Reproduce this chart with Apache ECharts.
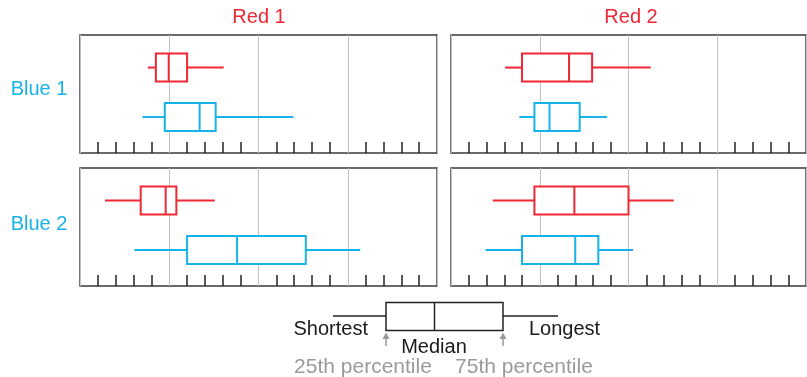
<!DOCTYPE html>
<html>
<head>
<meta charset="utf-8">
<script src="https://cdn.jsdelivr.net/npm/echarts@6/dist/echarts.min.js"></script>
<style>html,body{margin:0;padding:0;background:#fff}#c{width:807px;height:377px}</style>
</head>
<body>
<div id="c"></div>
<script>
// Column / row labels
const colLabels = ['Red 1', 'Red 2'];
const rowLabels = ['Blue 1', 'Blue 2'];
// Box values: [shortest, 25th, median, 75th, longest]
const redBlue1Red1  = [3.8, 4.25, 4.97, 6.0, 8.05];
const blueBlue1Red1 = [3.5, 4.75, 6.7, 7.6, 11.95];
const redBlue1Red2  = [3.05, 4.0, 6.65, 7.95, 11.25];
const blueBlue1Red2 = [3.85, 4.7, 5.55, 7.25, 8.8];
const redBlue2Red1  = [1.4, 3.4, 4.8, 5.4, 7.55];
const blueBlue2Red1 = [3.05, 6.0, 8.8, 12.65, 15.7];
const redBlue2Red2  = [2.35, 4.7, 6.95, 10.0, 12.55];
const blueBlue2Red2 = [1.95, 4.0, 7.0, 8.3, 10.25];
// Legend texts
const legendTexts = ['Shortest', 'Median', 'Longest', '25th percentile', '75th percentile'];

const RED = '#ee2834', BLUE = '#18b2ea';
const FONT = 'Liberation Sans, Arial, Helvetica, sans-serif';
const panels = [
  {left: 80, top: 35, width: 357, red: redBlue1Red1, blue: blueBlue1Red1},
  {left: 451, top: 35, width: 355, red: redBlue1Red2, blue: blueBlue1Red2},
  {left: 80, top: 168, width: 357, red: redBlue2Red1, blue: blueBlue2Red1},
  {left: 451, top: 168, width: 355, red: redBlue2Red2, blue: blueBlue2Red2}
];

function renderBox(params, api) {
  const y = api.value(0);
  const lo = api.coord([api.value(1), y]);
  const q1 = api.coord([api.value(2), y]);
  const md = api.coord([api.value(3), y]);
  const q3 = api.coord([api.value(4), y]);
  const hi = api.coord([api.value(5), y]);
  const h = 14;
  const color = api.value(6) === 0 ? RED : BLUE;
  const st = {stroke: color, lineWidth: 2, fill: null};
  return {type: 'group', children: [
    {type: 'line', shape: {x1: lo[0], y1: lo[1], x2: q1[0], y2: q1[1]}, style: st},
    {type: 'line', shape: {x1: q3[0], y1: q3[1], x2: hi[0], y2: hi[1]}, style: st},
    {type: 'rect', shape: {x: q1[0], y: q1[1] - h, width: q3[0] - q1[0], height: 2 * h}, style: {stroke: color, lineWidth: 2, fill: '#fff'}},
    {type: 'line', shape: {x1: md[0], y1: md[1] - h, x2: md[0], y2: md[1] + h}, style: st}
  ]};
}

const grid = [], xAxis = [], yAxis = [], series = [];
panels.forEach((p, i) => {
  grid.push({left: p.left, top: p.top, width: p.width, height: 118, show: true, borderColor: '#3a3a3a', borderWidth: 1.4, backgroundColor: 'transparent'});
  xAxis.push({type: 'value', gridIndex: i, min: 0, max: 20, interval: 5,
    axisLine: {show: false}, axisLabel: {show: false},
    axisTick: {show: false, inside: true},
    minorTick: {show: true, splitNumber: 5, length: 11, lineStyle: {color: '#222', width: 1.5}},
    splitLine: {show: true, lineStyle: {color: '#c2c2c2', width: 1}}});
  yAxis.push({type: 'value', gridIndex: i, min: 0.27, max: 2.66, show: false, splitLine: {show: false}});
  series.push({type: 'custom', xAxisIndex: i, yAxisIndex: i, renderItem: renderBox,
    encode: {x: [1, 2, 3, 4, 5], y: 0},
    data: [[2].concat(p.red, [0]), [1].concat(p.blue, [1])], silent: true, z: 5});
});

const txt = (x, y, t, opt) => ({type: 'text', x, y, style: Object.assign({text: t, font: '20px ' + FONT, fill: '#1a1a1a', textAlign: 'center', textVerticalAlign: 'middle'}, opt || {})});
const ln = (x1, y1, x2, y2, c) => ({type: 'line', shape: {x1, y1, x2, y2}, style: {stroke: c || '#222', lineWidth: 1.5}});
const arrow = (x) => ({type: 'group', children: [
  ln(x, 346, x, 336, '#999'),
  {type: 'polygon', shape: {points: [[x - 3.5, 339], [x, 332.5], [x + 3.5, 339]]}, style: {fill: '#999'}}
]});

const graphic = [
  txt(259, 17, colLabels[0], {fill: RED}),
  txt(631, 17, colLabels[1], {fill: RED}),
  txt(39, 89, rowLabels[0], {fill: BLUE}),
  txt(39, 224, rowLabels[1], {fill: BLUE}),
  ln(333, 316, 386, 316),
  ln(503, 316, 558, 316),
  {type: 'rect', shape: {x: 386, y: 302.5, width: 117, height: 28}, style: {stroke: '#222', lineWidth: 1.5, fill: null}},
  ln(434.5, 302.5, 434.5, 330.5),
  txt(368, 329.5, legendTexts[0], {textAlign: 'right'}),
  txt(434, 347.5, legendTexts[1]),
  txt(529, 329.5, legendTexts[2], {textAlign: 'left'}),
  txt(363, 367.5, legendTexts[3], {fill: '#9a9a9a', font: '21px ' + FONT}),
  txt(524, 367.5, legendTexts[4], {fill: '#9a9a9a', font: '21px ' + FONT}),
  arrow(386), arrow(503)
];

const chart = echarts.init(document.getElementById('c'), null, {renderer: 'canvas'});
chart.setOption({animation: false, grid, xAxis, yAxis, series, graphic});
</script>
</body>
</html>
